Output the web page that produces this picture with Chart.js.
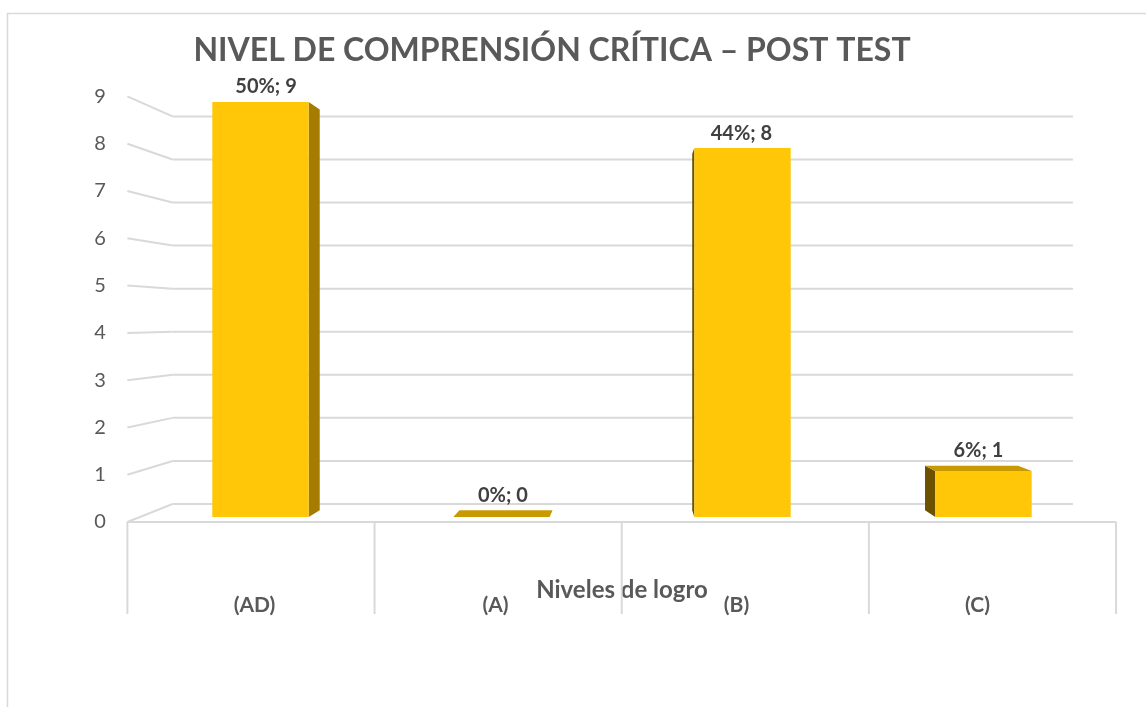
<!DOCTYPE html>
<html>
<head>
<meta charset="utf-8">
<script src="https://cdn.jsdelivr.net/npm/chart.js@4"></script>
<style>
  body { margin: 0; background: #fff; }
  #contenedor { width: 1146px; height: 707px; position: relative; }
</style>
</head>
<body>
<div id="contenedor"><canvas id="grafica"></canvas></div>
<script>
// datos de la grafica
const categorias = ['(AD)', '(A)', '(B)', '(C)'];
const estudiantes = [9, 0, 8, 1];
const porcentajes = [50, 0, 44, 6];
const yMin = 0;
const yMax = 9;
const titulo = 'NIVEL DE COMPRENSIÓN CRÍTICA – POST TEST';
const tituloEje = 'Niveles de logro';

// perspectiva (punto de fuga y profundidades)
const V = { x: 633, y: 320 };
const K_FRENTE = -0.0256;
const K_FONDO = 0.066;
const K_BARRA = 0.034;
const FUENTE = 'Lato, "Open Sans", sans-serif';

function proj(x, y, k) {
    return [x + k * (V.x - x), y + k * (V.y - y)];
}

function linea(ctx, a, b) {
    ctx.beginPath();
    ctx.moveTo(a[0], a[1]);
    ctx.lineTo(b[0], b[1]);
    ctx.stroke();
}

function poligono(ctx, pts, color) {
    ctx.beginPath();
    ctx.moveTo(pts[0][0], pts[0][1]);
    for (let i = 1; i < pts.length; i++) ctx.lineTo(pts[i][0], pts[i][1]);
    ctx.closePath();
    ctx.fillStyle = color;
    ctx.fill();
}

const efecto3d = {
    id: 'efecto3d',
    beforeDatasetsDraw(chart) {
        const ctx = chart.ctx;
        const area = chart.chartArea;
        const y = chart.scales.y;
        ctx.save();

        // marco
        ctx.strokeStyle = '#d9d9d9';
        ctx.lineWidth = 1.5;
        ctx.beginPath();
        ctx.moveTo(7.5, 707);
        ctx.lineTo(7.5, 13.5);
        ctx.lineTo(1146, 13.5);
        ctx.stroke();

        // pared del fondo y lineas laterales
        ctx.lineWidth = 2;
        y.ticks.forEach(t => {
            const py = y.getPixelForValue(t.value);
            const fondoIzq = proj(area.left, py, K_FONDO);
            const fondoDer = proj(area.right, py, K_FONDO);
            linea(ctx, fondoIzq, fondoDer);
            linea(ctx, proj(area.left, py, K_FRENTE), fondoIzq);
        });

        // piso frontal y separadores
        const a = proj(area.left, area.bottom, K_FRENTE);
        const b = proj(area.right, area.bottom, K_FRENTE);
        linea(ctx, a, b);
        const paso = (area.right - area.left) / categorias.length;
        for (let i = 0; i <= categorias.length; i++) {
            const p = proj(area.left + i * paso, area.bottom, K_FRENTE);
            linea(ctx, p, [p[0], 614]);
        }

        // etiquetas del eje Y en el plano frontal
        ctx.fillStyle = '#595959';
        ctx.font = '20px ' + FUENTE;
        ctx.textAlign = 'center';
        ctx.textBaseline = 'middle';
        y.ticks.forEach(t => {
            const py = y.getPixelForValue(t.value);
            const p = proj(area.left, py, K_FRENTE);
            ctx.fillText(String(t.value), 100, p[1]);
        });

        // caras laterales y superiores de las barras
        chart.getDatasetMeta(0).data.forEach(bar => {
            const izq = bar.x - bar.width / 2;
            const der = bar.x + bar.width / 2;
            const arriba = bar.y;
            const abajo = bar.base;
            if (der < V.x) {
                poligono(ctx, [[der, arriba], proj(der, arriba, K_BARRA), proj(der, abajo, K_BARRA), [der, abajo]], '#a67c00');
            }
            if (izq > V.x) {
                poligono(ctx, [[izq, arriba], proj(izq, arriba, K_BARRA), proj(izq, abajo, K_BARRA), [izq, abajo]], '#6b5100');
            }
            if (arriba > V.y) {
                poligono(ctx, [[izq, arriba], [der, arriba], proj(der, arriba, K_BARRA), proj(izq, arriba, K_BARRA)], '#c89a00');
            }
        });
        ctx.restore();
    },
    afterDatasetsDraw(chart) {
        const ctx = chart.ctx;
        ctx.save();
        ctx.fillStyle = '#404040';
        ctx.font = 'bold 20px ' + FUENTE;
        ctx.textAlign = 'center';
        ctx.textBaseline = 'middle';
        chart.getDatasetMeta(0).data.forEach((bar, i) => {
            const izq = bar.x - bar.width / 2;
            const der = bar.x + bar.width / 2;
            const fondo = proj(bar.x, bar.y, K_BARRA);
            const x1 = Math.min(izq, proj(izq, bar.y, K_BARRA)[0]);
            const x2 = Math.max(der, proj(der, bar.y, K_BARRA)[0]);
            const ly = Math.min(bar.y, fondo[1]) - 15;
            ctx.fillText(porcentajes[i] + '%; ' + estudiantes[i], (x1 + x2) / 2, ly);
        });
        ctx.restore();
    }
};

const ctx = document.getElementById('grafica').getContext('2d');

new Chart(ctx, {
    type: 'bar',
    data: {
        labels: categorias,
        datasets: [{
            label: 'Estudiantes',
            data: estudiantes,
            backgroundColor: '#ffc708',
            borderWidth: 0,
            barPercentage: 0.4,
            categoryPercentage: 1
        }]
    },
    options: {
        responsive: true,
        maintainAspectRatio: false,
        animation: false,
        layout: {
            padding: { left: 0, right: 42, top: 0, bottom: 0 }
        },
        plugins: {
            legend: { display: false },
            tooltip: { enabled: false },
            title: {
                display: true,
                text: titulo,
                color: '#595959',
                font: { family: FUENTE, size: 32, weight: 'bold' },
                padding: { top: 31, bottom: 32.6 }
            }
        },
        scales: {
            y: {
                min: yMin,
                max: yMax,
                ticks: { stepSize: 1, display: false },
                grid: { display: false },
                border: { display: false },
                afterFit: function (scale) {
                    scale.width = 140;
                }
            },
            x: {
                grid: { display: false },
                border: { display: false },
                ticks: {
                    color: '#595959',
                    padding: 68,
                    labelOffset: -6,
                    font: { family: FUENTE, size: 21, weight: 'bold' }
                },
                title: {
                    display: true,
                    text: tituloEje,
                    color: '#595959',
                    padding: { top: 0, bottom: 102.6 },
                    font: { family: FUENTE, size: 24, weight: 'bold' }
                },
                afterFit: function (scale) {
                    scale.height = 190;
                }
            }
        }
    },
    plugins: [efecto3d]
});
</script>
</body>
</html>
